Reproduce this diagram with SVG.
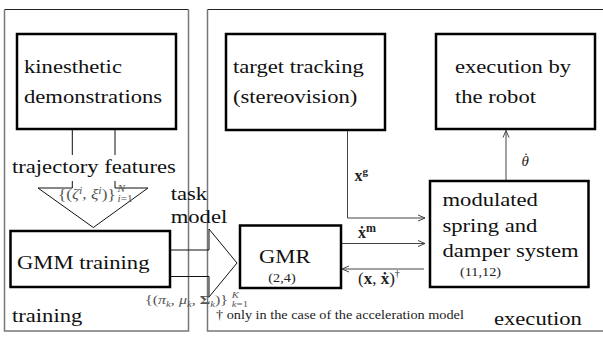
<svg xmlns="http://www.w3.org/2000/svg" width="603" height="338" viewBox="0 0 603 338">
  <style>
    .frame-top { stroke: #222; stroke-width: 1; fill: none; }
    .frame { stroke: #777; stroke-width: 1.5; fill: none; }
    .box { fill: #fff; stroke: #000; stroke-width: 2.5; }
    .lbl { font-family: "Liberation Serif", "DejaVu Serif", serif; font-size: 19px; fill: #111; }
    .small { font-family: "Liberation Serif", "DejaVu Serif", serif; font-size: 12px; fill: #222; }
    .math { font-family: "Liberation Serif", "DejaVu Serif", serif; fill: #555; }
    .vec { font-family: "Liberation Serif", "DejaVu Serif", serif; fill: #222; }
    .wire { stroke: #444; stroke-width: 1; fill: none; }
    .block { stroke: #111; stroke-width: 1; fill: none; }
  </style>
  <defs>
    <marker id="head" viewBox="-8 -4 9 8" refX="0" refY="0" markerWidth="9" markerHeight="8" markerUnits="userSpaceOnUse" orient="auto">
      <path d="M-7,-3 L0,0 L-7,3" fill="none" stroke="#444" stroke-width="1"/>
    </marker>
  </defs>

  <!-- phase frames -->
  <g id="frames">
    <line class="frame-top" x1="4.5" y1="9.5" x2="188.5" y2="9.5"/>
    <path class="frame" d="M4.5,9.5 V331 H188.5 V9.5"/>
    <line class="frame-top" x1="207.5" y1="9.5" x2="603" y2="9.5"/>
    <path class="frame" d="M603,331 H207.5 V9.5"/>
    <text class="lbl" transform="translate(12,321.7) scale(1.19,1)">training</text>
    <text class="lbl" transform="translate(494,325) scale(1.19,1)">execution</text>
    <text class="small" transform="translate(216,319) scale(1.19,1)" font-size="12.2">† only in the case of the acceleration model</text>
  </g>

  <!-- connectors -->
  <g id="connectors">
    <!-- block arrow: demonstrations to GMM training -->
    <path class="block" d="M72.3,129 V155 M115,155 V129 M72.3,181 V188 H38 L93.3,227.5 L148,188 H115 V181"/>
    <!-- block arrow: GMM training to GMR -->
    <path class="block" d="M170,250 H209 V229 L237,263 L209,297 V276.5 H170"/>
    <!-- goal position -->
    <path class="wire" d="M347.5,130 V218 H425" marker-end="url(#head)"/>
    <!-- desired velocity -->
    <path class="wire" d="M341,243.5 H425" marker-end="url(#head)"/>
    <!-- state feedback -->
    <path class="wire" d="M424,269 H342" marker-end="url(#head)"/>
    <!-- joint velocity command -->
    <path class="wire" d="M506,181 V130.5" marker-end="url(#head)"/>
  </g>

  <!-- edge labels -->
  <g id="edge-labels">
    <text class="lbl" transform="translate(12,173) scale(1.19,1)">trajectory features</text>
    <g transform="translate(58,199) scale(1.19,1)" class="math">
      <text x="0" y="0" font-size="14.5">{(<tspan font-style="italic">ζ</tspan><tspan font-size="10" dy="-5.5" font-style="italic">i</tspan><tspan dy="5.5">, </tspan><tspan font-style="italic">ξ</tspan><tspan font-size="10" dy="-5.5" font-style="italic">i</tspan><tspan dy="5.5">)}</tspan></text>
      <text x="50" y="-7" font-size="9.5" font-style="italic">N</text>
      <text x="50" y="3" font-size="9.5"><tspan font-style="italic">i</tspan>=1</text>
    </g>
    <text class="lbl" transform="translate(170.7,200) scale(1.19,1)">task</text>
    <text class="lbl" transform="translate(170.7,222.7) scale(1.19,1)">model</text>
    <g transform="translate(145,304) scale(1.19,1)" class="math">
      <text x="0" y="0" font-size="13.5">{(<tspan font-style="italic">π</tspan><tspan font-size="9" dy="3" font-style="italic">k</tspan><tspan dy="-3">, </tspan><tspan font-style="italic">μ</tspan><tspan font-size="9" dy="3" font-style="italic">k</tspan><tspan dy="-3">, </tspan><tspan font-weight="bold">Σ</tspan><tspan font-size="9" dy="3" font-style="italic">k</tspan><tspan dy="-3">)}</tspan></text>
      <text x="73" y="-6" font-size="9" font-style="italic">K</text>
      <text x="73" y="3" font-size="9"><tspan font-style="italic">k</tspan>=1</text>
    </g>
    <text class="vec" x="354.5" y="181" font-size="16"><tspan font-weight="bold">x</tspan><tspan font-size="11" dy="-6" font-weight="bold">g</tspan></text>
    <text class="vec" x="358" y="237.5" font-size="16"><tspan font-weight="bold">ẋ</tspan><tspan font-size="12" dy="-6" font-weight="bold">m</tspan></text>
    <text class="vec" x="358" y="283.5" font-size="17">(<tspan font-weight="bold">x</tspan>, <tspan font-weight="bold">ẋ</tspan>)<tspan font-size="10" dy="-7">†</tspan></text>
    <text class="vec" x="521.5" y="166" font-size="15"><tspan font-style="italic">θ</tspan><tspan dx="-5.5" dy="-3.5">˙</tspan></text>
  </g>

  <!-- nodes -->
  <g id="kinesthetic">
    <rect class="box" x="17" y="34" width="159" height="95"/>
    <text class="lbl" transform="translate(24,73) scale(1.19,1)">kinesthetic</text>
    <text class="lbl" transform="translate(24,103) scale(1.19,1)">demonstrations</text>
  </g>
  <g id="gmm-training">
    <rect class="box" x="10.5" y="231" width="159.5" height="56"/>
    <text class="lbl" transform="translate(17,269) scale(1.19,1)">GMM training</text>
  </g>
  <g id="target-tracking">
    <rect class="box" x="226" y="34" width="159" height="96"/>
    <text class="lbl" transform="translate(233,72.7) scale(1.19,1)">target tracking</text>
    <text class="lbl" transform="translate(233,103.3) scale(1.19,1)">(stereovision)</text>
  </g>
  <g id="robot-execution">
    <rect class="box" x="436" y="34" width="159" height="95"/>
    <text class="lbl" transform="translate(455,72.7) scale(1.19,1)">execution by</text>
    <text class="lbl" transform="translate(455,103.3) scale(1.19,1)">the robot</text>
  </g>
  <g id="gmr">
    <rect class="box" x="240" y="225.5" width="101" height="62.5"/>
    <text class="lbl" transform="translate(259,263.3) scale(1.19,1)">GMR</text>
    <text class="small" transform="translate(268.3,281.7) scale(1.19,1)">(2,4)</text>
  </g>
  <g id="spring-damper">
    <rect class="box" x="430" y="181" width="158.5" height="106"/>
    <text class="lbl" transform="translate(442.5,206) scale(1.19,1)">modulated</text>
    <text class="lbl" transform="translate(442.5,231.7) scale(1.19,1)">spring and</text>
    <text class="lbl" transform="translate(442.5,257.3) scale(1.19,1)">damper system</text>
    <text class="small" transform="translate(460,276) scale(1.19,1)">(11,12)</text>
  </g>
</svg>
